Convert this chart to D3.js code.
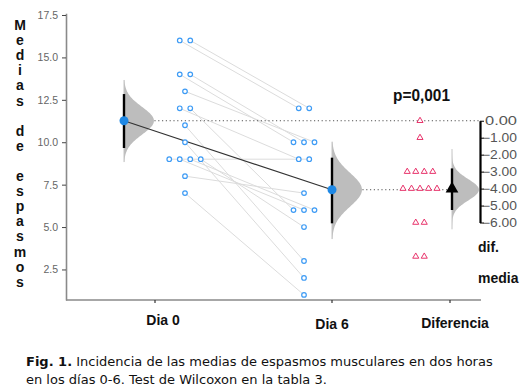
<!DOCTYPE html>
<html><head><meta charset="utf-8">
<script src="https://cdn.jsdelivr.net/npm/d3@7"></script>
<style>body{margin:0;background:#fff}svg{display:block}</style>
</head><body><svg id="c" width="532" height="387"></svg>
<script>
// ---- data ----
const groups = ["Dia 0", "Dia 6", "Diferencia"];
const dia0 = [16, 16, 14, 14, 13, 12, 12, 11, 10, 9, 9, 9, 9, 8, 7];
const dia6 = [12, 12, 10, 10, 10, 9, 6, 3, 2, 9, 6, 6, 5, 7, 1];
const ciLow = [9.66, 5.22, -5.26];
const ciHigh = [12.84, 9.09, -2.81];
const bootLow = [8.83, 4.29, -6.4];
const bootHigh = [13.67, 10.03, -1.67];
const yTicks = [2.5, 5.0, 7.5, 10.0, 12.5, 15.0, 17.5];
const diffTicks = [0, -1, -2, -3, -4, -5, -6];
const yTitle = "Medias de espasmos";
const pText = "p=0,001";

// ---- layout ----
const svg = d3.select("#c");
const font = "'Liberation Sans', Arial, sans-serif";
const y = d3.scaleLinear().domain([0.7, 17.6]).range([300, 13.3]);
const tickX = d3.scaleOrdinal().domain(groups).range([155, 332, 450]);
const meanX = d3.scaleOrdinal().domain(groups).range([124, 332, 452]);
const swarmX = d3.scaleOrdinal().domain(groups).range([185, 304, 420]);
const labelX = d3.scaleOrdinal().domain(groups).range([163, 332, 455]);
const labelY = d3.scaleOrdinal().domain(groups).range([325, 329, 328]);

const diffs = dia0.map((v, i) => dia6[i] - v);
const means = [d3.mean(dia0), d3.mean(dia6), d3.mean(diffs)];
const yDiff = d3.scaleLinear().domain([0, -6]).range([y(means[0]), y(means[0] - 6)]);
const yOf = (gi, v) => gi < 2 ? y(v) : yDiff(v);

// beeswarm offsets
function swarm(vals, spacing) {
  const counts = d3.rollup(vals, v => v.length, d => d);
  const seen = new Map();
  return vals.map(v => {
    const n = counts.get(v); const k = seen.get(v) || 0; seen.set(v, k + 1);
    return (k - (n - 1) / 2) * spacing;
  });
}
const off0 = swarm(dia0, 10.5), off6 = swarm(dia6, 10.5), offD = swarm(diffs, 8.5);

// left axis
const ax = svg.append("g").attr("transform", "translate(66,0)")
  .call(d3.axisLeft(y).tickValues(yTicks).tickFormat(d3.format(".1f")).tickSize(4).tickSizeOuter(0));
ax.select(".domain").attr("stroke", "#8a8a8a").attr("stroke-width", 1.6);
ax.selectAll(".tick line").attr("stroke", "#444");
ax.selectAll(".tick text").attr("fill", "#666").style("font", `10.5px ${font}`).attr("x", -8);

// x axis
svg.append("line").attr("x1", 66).attr("x2", 481).attr("y1", 300).attr("y2", 300)
  .attr("stroke", "#8a8a8a").attr("stroke-width", 1.6);
svg.selectAll(".xt").data(groups).join("line")
  .attr("x1", d => tickX(d)).attr("x2", d => tickX(d)).attr("y1", 300).attr("y2", 303)
  .attr("stroke", "#333").attr("stroke-width", 1.2);
svg.selectAll(".xl").data(groups).join("text")
  .attr("x", d => labelX(d)).attr("y", d => labelY(d)).attr("text-anchor", "middle")
  .style("font", `bold 14px ${font}`).attr("fill", "#111").text(d => d);

// y title stacked letters
const chars = yTitle.split("");
svg.selectAll(".yt").data(chars).join("text")
  .attr("x", 20).attr("y", (d, i) => 30 + i * 15.1).attr("text-anchor", "middle")
  .style("font", `bold 14px ${font}`).attr("fill", "#111").text(d => d === " " ? "" : d);

// pair lines
svg.append("g").selectAll("line").data(dia0).join("line")
  .attr("x1", (d, i) => swarmX("Dia 0") + off0[i]).attr("y1", d => y(d))
  .attr("x2", (d, i) => swarmX("Dia 6") + off6[i]).attr("y2", (d, i) => y(dia6[i]))
  .attr("stroke", "#dcdcdc").attr("stroke-width", 1);

// dotted reference lines
svg.append("line").attr("x1", meanX("Dia 0")).attr("x2", 480).attr("y1", y(means[0])).attr("y2", y(means[0]))
  .attr("stroke", "#555").attr("stroke-width", 1).attr("stroke-dasharray", "1.2,2.6");
svg.append("line").attr("x1", meanX("Dia 6")).attr("x2", 480).attr("y1", y(means[1])).attr("y2", y(means[1]))
  .attr("stroke", "#555").attr("stroke-width", 1).attr("stroke-dasharray", "1.2,2.6");

// violins
function normal(x, m, s) { return Math.exp(-0.5 * ((x - m) / s) ** 2); }
groups.forEach((g, gi) => {
  const m = means[gi], s = (ciHigh[gi] - ciLow[gi]) / 3.92;
  const pts = d3.range(0, 61).map(k => bootLow[gi] + (bootHigh[gi] - bootLow[gi]) * k / 60);
  const w = gi < 2 ? 30 : 27;
  const area = d3.area().curve(d3.curveBasis)
    .y(v => yOf(gi, v)).x0(meanX(g)).x1(v => meanX(g) + w * normal(v, m, s));
  svg.append("path").datum(pts).attr("d", area).attr("fill", "#bdbdbd");
  svg.append("line").attr("x1", meanX(g)).attr("x2", meanX(g))
    .attr("y1", yOf(gi, bootLow[gi])).attr("y2", yOf(gi, bootHigh[gi]))
    .attr("stroke", "#c4c4c4").attr("stroke-width", 1);
  svg.append("line").attr("x1", meanX(g)).attr("x2", meanX(g))
    .attr("y1", yOf(gi, ciLow[gi])).attr("y2", yOf(gi, ciHigh[gi]))
    .attr("stroke", "#000").attr("stroke-width", 2.4);
});

// mean connection line
svg.append("line").attr("x1", meanX("Dia 0")).attr("y1", y(means[0]))
  .attr("x2", meanX("Dia 6")).attr("y2", y(means[1])).attr("stroke", "#333").attr("stroke-width", 1.2);

// points
const blue = "#3d9bf5";
svg.append("g").selectAll("circle").data(dia0).join("circle")
  .attr("cx", (d, i) => swarmX("Dia 0") + off0[i]).attr("cy", d => y(d)).attr("r", 2.3)
  .attr("fill", "#fff").attr("stroke", blue).attr("stroke-width", 1.2);
svg.append("g").selectAll("circle").data(dia6).join("circle")
  .attr("cx", (d, i) => swarmX("Dia 6") + off6[i]).attr("cy", d => y(d)).attr("r", 2.3)
  .attr("fill", "#fff").attr("stroke", blue).attr("stroke-width", 1.2);
const tri = d3.symbol().type(d3.symbolTriangle);
svg.append("g").selectAll("path").data(diffs).join("path")
  .attr("d", tri.size(16)())
  .attr("transform", (d, i) => `translate(${swarmX("Diferencia") + offD[i]},${yDiff(d)})`)
  .attr("fill", "#fff").attr("stroke", "#e8336b").attr("stroke-width", 1);

// means
[0, 1].forEach(gi => {
  svg.append("circle").attr("cx", meanX(groups[gi])).attr("cy", y(means[gi])).attr("r", 4.5).attr("fill", "#1e88e5");
});
svg.append("path").attr("d", d3.symbol().type(d3.symbolTriangle).size(70)())
  .attr("transform", `translate(${meanX("Diferencia")},${yDiff(means[2]) - 1})`).attr("fill", "#000");

// right axis
const rx = svg.append("g").attr("transform", "translate(480,0)")
  .call(d3.axisRight(yDiff).tickValues(diffTicks).tickFormat(d3.format(".2f")).tickSize(4).tickSizeOuter(0));
rx.select(".domain").attr("stroke", "#000").attr("stroke-width", 2.2);
rx.selectAll(".tick line").attr("stroke", "#000");
rx.selectAll(".tick text").attr("fill", "#555").style("font", `12px ${font}`)
  .attr("text-anchor", "end").attr("x", 37)
  .attr("textLength", d => d === 0 ? 32 : 35).attr("lengthAdjust", "spacingAndGlyphs");

svg.append("text").attr("x", 478).attr("y", 252).style("font", `bold 14px ${font}`).attr("fill", "#111").text("dif.");
svg.append("text").attr("x", 478).attr("y", 283).style("font", `bold 14px ${font}`).attr("fill", "#111").text("media");
svg.append("text").attr("x", 393).attr("y", 101).style("font", `bold 17px ${font}`).attr("fill", "#111")
  .attr("textLength", 57).attr("lengthAdjust", "spacingAndGlyphs").text(pText);

// caption
const capFont = "13px 'DejaVu Sans', Verdana, sans-serif";
const cap = svg.append("text").attr("x", 26).attr("y", 366).style("font", capFont).attr("fill", "#111");
cap.append("tspan").style("font-weight", "bold").text("Fig. 1.");
cap.append("tspan").text(" Incidencia de las medias de espasmos musculares en dos horas");
svg.append("text").attr("x", 26).attr("y", 384).style("font", capFont).attr("fill", "#111")
  .text("en los días 0-6. Test de Wilcoxon en la tabla 3.");
</script></body></html>
